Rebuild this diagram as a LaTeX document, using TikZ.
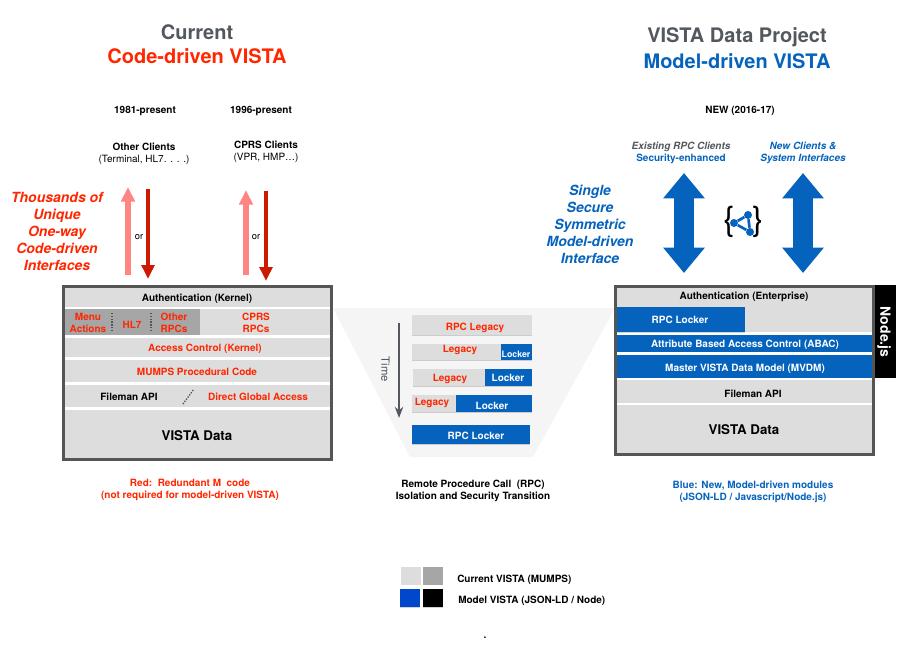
\documentclass[tikz,border=0pt]{standalone}
\usepackage{fontspec}
\setmainfont{TeX Gyre Heros}
\usepackage{xcolor}
\usetikzlibrary{arrows.meta, shadows}

\definecolor{vistared}{HTML}{FF2600}
\definecolor{vistablue}{HTML}{0563BD}
\definecolor{vistagray}{HTML}{DDDDDD}
\definecolor{panelgray}{HTML}{A6A6A6}
\definecolor{framegray}{HTML}{555555}
\definecolor{titlegray}{HTML}{53585F}
\definecolor{funnelgray}{HTML}{F5F5F5}
\definecolor{pinkarrow}{HTML}{FF8585}
\definecolor{darkred}{HTML}{CC1A00}
\definecolor{keyblue}{HTML}{0047CC}

\tikzset{
    block/.style 2 args={minimum width=#1*0.75pt, minimum height=#2*0.75pt, inner sep=0pt, align=center},
    graylayer/.style={fill=vistagray},
    bluelayer/.style={fill=vistablue, text=white},
    bar/.style={drop shadow={shadow xshift=0pt, shadow yshift=-0.7pt, opacity=0.35}},
    txt/.style={font=\bfseries\fontsize{7.5}{9}\selectfont, align=center, inner sep=0pt, yshift=-1.7pt},
    redtxt/.style={txt, text=vistared},
    bluetxt/.style={txt, text=vistablue},
    bigtitle/.style={font=\bfseries\fontsize{15}{18}\selectfont, inner sep=0pt},
    slogan/.style={font=\bfseries\itshape\fontsize{10.5}{12.75}\selectfont, align=center, inner sep=0pt},
    datatxt/.style={font=\bfseries\fontsize{10}{12}\selectfont},
    frame/.style={draw=framegray, line width=2.2pt},
    ball/.style={circle, fill=vistablue, minimum size=6pt, inner sep=0pt},
    swatch/.style={minimum width=15pt, minimum height=13.5pt, inner sep=0pt},
    pinkup/.style={pinkarrow, line width=4.5pt, -{Triangle[length=11pt, width=10pt]}},
    reddown/.style={darkred, line width=3.5pt, -{Triangle[length=10.5pt, width=9.5pt]}},
    fatarrow/.style={vistablue, line width=15.5pt, {Triangle[length=19pt, width=30pt]}-{Triangle[length=19pt, width=30pt]}},
}

\begin{document}
\begin{tikzpicture}[x=0.75pt, y=-0.75pt, >={Stealth[]}]
        \useasboundingbox (0,0) rectangle (898,649);

        % funnel behind the middle column
        \fill[funnelgray] (333,308) -- (615,308) -- (533,457) -- (410,457) -- cycle;

        % headings
        \node[bigtitle, text=titlegray] (curtitle) at (197,32) {Current};
        \node[bigtitle, text=vistared] (codetitle) at (197,56) {Code-driven VISTA};
        \node[bigtitle, text=titlegray] (datatitle) at (737,37) {VISTA Data Project};
        \node[bigtitle, text=vistablue] (modeltitle) at (737,61) {Model-driven VISTA};

        % client labels
        \node[txt] (yearsold) at (145,109) {1981-present};
        \node[txt] (yearscprs) at (261,109) {1996-present};
        \node[txt] (yearsnew) at (740,109) {NEW (2016-17)};
        \node[txt] (otherclients) at (144,152) {Other Clients\\{\mdseries (Terminal, HL7. . . .)}};
        \node[txt] (cprsclients) at (266,150) {CPRS Clients\\{\mdseries (VPR, HMP\dots)}};
        \node[bluetxt] (rpcclients) at (681,151) {{\itshape\color{titlegray} Existing RPC Clients}\\Security-enhanced};
        \node[bluetxt, font=\bfseries\itshape\fontsize{7.5}{9}\selectfont] (newclients) at (803,151) {New Clients \&\\System Interfaces};

        % slogans
        \node[slogan, text=vistared] (thousands) at (57,231) {Thousands of\\Unique\\One-way\\Code-driven\\Interfaces};
        \node[slogan, text=vistablue] (single) at (590,224) {Single\\Secure\\Symmetric\\Model-driven\\Interface};

        % one-way arrows (left)
        \coordinate (otherupa) at (128,275);
        \coordinate (otherupb) at (128,187);
        \coordinate (otherdowna) at (148,189);
        \coordinate (otherdownb) at (148,279);
        \coordinate (cprsupa) at (246,275);
        \coordinate (cprsupb) at (246,190);
        \coordinate (cprsdowna) at (266,191);
        \coordinate (cprsdownb) at (266,281);
        \draw[pinkup] (otherupa) -- (otherupb);
        \draw[reddown] (otherdowna) -- (otherdownb);
        \draw[pinkup] (cprsupa) -- (cprsupb);
        \draw[reddown] (cprsdowna) -- (cprsdownb);
        \node[txt, font=\fontsize{7}{9}\selectfont] (orone) at (139,235) {or};
        \node[txt, font=\fontsize{7}{9}\selectfont] (ortwo) at (256,235) {or};

        % two-way arrows and icon (right)
        \coordinate (rpctop) at (684,173);
        \coordinate (rpcbot) at (684,273);
        \coordinate (newtop) at (803,173);
        \coordinate (newbot) at (803,273);
        \draw[fatarrow] (rpctop) -- (rpcbot);
        \draw[fatarrow] (newtop) -- (newbot);
        \node[font=\fontsize{25}{30}\selectfont, inner sep=0pt] (lbrace) at (729,222) {\{};
        \node[font=\fontsize{25}{30}\selectfont, inner sep=0pt] (rbrace) at (758,222) {\}};
        \node[ball] (balla) at (748,215) {};
        \node[ball] (ballb) at (734,223) {};
        \node[ball] (ballc) at (750,232) {};
        \draw[vistablue, line width=2pt] (balla) -- (ballb) -- (ballc) -- (balla);

        % current stack
        \node[block={268}{173}, frame, fill=white] (curframe) at (197.5,373) {};
        \node[block={265}{19}, graylayer] (curauth) at (197.5,297.5) {};
        \node[block={265}{26}, graylayer] (currow) at (197.5,322) {};
        \node[block={135}{26}, fill=panelgray] (curpanel) at (132.5,322) {};
        \node[block={265}{19}, graylayer] (curaccess) at (197.5,347.5) {};
        \node[block={265}{22}, graylayer] (curmumps) at (197.5,371) {};
        \node[block={265}{22}, graylayer] (curfile) at (197.5,396) {};
        \node[block={265}{48}, graylayer] (curdata) at (197.5,434) {};
        \node[txt] (curauthtxt) at (197,297) {Authentication (Kernel)};
        \node[datatxt] (curdatatxt) at (197,436) {VISTA Data};
        \node[redtxt] (menu) at (88,321) {Menu\\Actions};
        \node[redtxt] (hlseven) at (132,323) {HL7};
        \node[redtxt] (otherrpc) at (174,321) {Other\\RPCs};
        \node[redtxt] (cprsrpc) at (256,321) {CPRS\\RPCs};
        \coordinate (sepaa) at (112,313);
        \coordinate (sepab) at (112,332);
        \coordinate (sepba) at (151,313);
        \coordinate (sepbb) at (151,332);
        \coordinate (sepca) at (183,404);
        \coordinate (sepcb) at (194,389);
        \draw[densely dotted, framegray, line width=1.1pt] (sepaa) -- (sepab);
        \draw[densely dotted, framegray, line width=1.1pt] (sepba) -- (sepbb);
        \draw[densely dotted, framegray, line width=1pt] (sepca) -- (sepcb);
        \node[redtxt] (curaccesstxt) at (205,347) {Access Control (Kernel)};
        \node[redtxt] (curmumpstxt) at (197,370) {MUMPS Procedural Code};
        \node[txt] (curfiletxt) at (129,395) {Fileman API};
        \node[redtxt] (globaltxt) at (258,395) {Direct Global Access};
        \node[redtxt] (rednote) at (190,488) {Red:\ \ Redundant M\ \ code\\(not required for model-driven VISTA)};

        % transition bars
        \node[block={120}{20}, graylayer, bar] (barone) at (472,325) {};
        \node[block={120}{16}, graylayer, bar] (bartwo) at (472,352) {};
        \node[block={31}{16}, bluelayer] (bartwoblue) at (516.5,352) {};
        \node[block={119}{17}, graylayer, bar] (barthree) at (472.5,377.5) {};
        \node[block={47}{17}, bluelayer] (barthreeblue) at (508.5,377.5) {};
        \node[block={120}{17}, graylayer, bar] (barfour) at (472,403.5) {};
        \node[block={76}{17}, bluelayer] (barfourblue) at (494,403.5) {};
        \node[block={118}{19}, bluelayer, bar] (barfive) at (471,434.5) {};
        \node[redtxt] (legacyone) at (475,326) {RPC Legacy};
        \node[redtxt] (legacytwo) at (460,348) {Legacy};
        \node[txt, font=\bfseries\fontsize{6.6}{9}\selectfont, text=white] (lockertwo) at (516,352) {Locker};
        \node[redtxt] (legacythree) at (450,377) {Legacy};
        \node[txt, text=white] (lockerthree) at (508,376) {Locker};
        \node[redtxt] (legacyfour) at (432,401) {Legacy};
        \node[txt, text=white] (lockerfour) at (492,404) {Locker};
        \node[txt, text=white] (lockerfive) at (476,434) {RPC Locker};
        \coordinate (timea) at (399,323);
        \coordinate (timeb) at (399,418);
        \draw[titlegray, line width=1.2pt, ->] (timea) -- (timeb);
        \node[txt, font=\fontsize{8.5}{9}\selectfont, text=titlegray, rotate=-90, yshift=1pt] (timetxt) at (384,367) {Time};
        \node[txt] (rpcnote) at (473,489) {Remote Procedure Call\ \ (RPC)\\Isolation and Security Transition};

        % model stack
        \node[block={21}{93}, fill=black] (nodejs) at (885.5,331.5) {};
        \node[text=white, rotate=-90, inner sep=0pt, font=\bfseries\fontsize{10.5}{13}\selectfont] (nodetxt) at (884,332) {Node.js};
        \node[block={258}{168}, frame, fill=white] (modframe) at (744.5,370.5) {};
        \node[block={255}{44}, graylayer] (modtop) at (744.5,310) {};
        \node[txt] (modauth) at (744,295) {Authentication (Enterprise)};
        \node[block={128}{25}, bluelayer, bar] (locker) at (681,319.5) {};
        \node[txt, text=white] (lockertxt) at (680,318) {RPC Locker};
        \node[block={255}{17}, bluelayer] (abac) at (744.5,343.5) {};
        \node[txt, text=white] (abactxt) at (745,343) {Attribute Based Access Control (ABAC)};
        \node[block={255}{23}, bluelayer] (mvdm) at (744.5,366.5) {};
        \node[txt, text=white] (mvdmtxt) at (745,367) {Master VISTA Data Model (MVDM)};
        \node[block={255}{23}, graylayer] (modfile) at (744.5,391.5) {};
        \node[txt] (modfiletxt) at (753,392) {Fileman API};
        \node[block={255}{48}, graylayer] (moddata) at (744.5,429) {};
        \node[datatxt] (moddatatxt) at (744,430) {VISTA Data};
        \node[bluetxt] (bluenote) at (753,490) {Blue: New, Model-driven modules\\(JSON-LD / Javascript/Node.js)};

        % legend
        \node[swatch, fill=vistagray] (keylight) at (411,576) {};
        \node[swatch, fill=panelgray] (keygray) at (433,576) {};
        \node[swatch, fill=keyblue, bar] (keybox) at (410,598) {};
        \node[swatch, fill=black, bar] (keyblack) at (432.5,598) {};
        \node[txt, anchor=west] (keycur) at (457,578) {Current VISTA (MUMPS)};
        \node[txt, anchor=west] (keymod) at (458,599) {Model VISTA (JSON-LD / Node)};
        \node[txt] (dot) at (485,635) {.};
    \end{tikzpicture}
\end{document}
